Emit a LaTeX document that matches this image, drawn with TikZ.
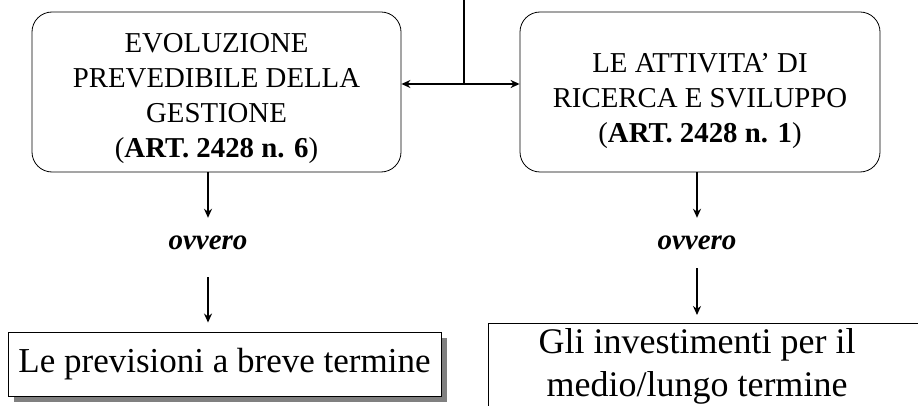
\documentclass[tikz,border=0pt]{standalone}
\usepackage{fontspec}
\setmainfont{Liberation Serif}
\usetikzlibrary{arrows.meta,shadows}

\begin{document}
\begin{tikzpicture}[x=1pt,y=-1pt,>={Stealth[length=9pt,width=8pt]},
    rbox/.style={draw,rounded corners=20pt,line width=0.8pt,minimum height=160pt},
    flatbox/.style={draw,line width=0.9pt,fill=white},
    boxtext/.style={align=center,inner sep=0pt,font=\fontsize{28.8}{35}\selectfont},
    ovtext/.style={inner sep=0pt,minimum height=50pt,font=\fontsize{29}{35}\selectfont\bfseries\itshape},
    link/.style={line width=2pt}]
  \clip (0,0) rectangle (918,406);

  % the two upper boxes
  \node[rbox,minimum width=369pt] (evol) at (216.5,92) {};
  \node[boxtext] (evoltxt) at (216.5,99) {EVOLUZIONE\\PREVEDIBILE DELLA\\GESTIONE\\(\textbf{ART. 2428 n. 6})};
  \node[rbox,minimum width=360pt] (ric) at (700,92) {};
  \node[boxtext] (rictxt) at (700,101) {LE ATTIVITA’ DI\\RICERCA E SVILUPPO\\(\textbf{ART. 2428 n. 1})};

  \coordinate (top) at (464,0);
  \coordinate (junc) at (464,84);
  \draw[link,line width=2.6pt] (top) -- (junc);
  \draw[link,<->] (junc -| evol.east) -- (junc -| ric.west);

  % ovvero
  \node[ovtext] (ovl) at (208,243) {ovvero};
  \node[ovtext] (ovr) at (697,243) {ovvero};
  \draw[link,->] (evol.south -| ovl) -- (ovl.north);
  \draw[link,->] (ric.south -| ovr) -- (ovr.north);

  % lower boxes
  \node[flatbox,drop shadow={shadow xshift=6pt,shadow yshift=-6pt,fill=gray,opacity=1},
        minimum width=433pt,minimum height=64pt,font=\fontsize{35}{42}\selectfont] (prev) at (224.5,364) {Le previsioni a breve termine};
  \node[flatbox,anchor=north west,minimum width=460pt,minimum height=120pt] (invbox) at (488,323) {};
  \node[align=center,inner sep=0pt,font=\fontsize{36}{43}\selectfont] (inv) at (697,366) {Gli investimenti per il\\medio/lungo termine};

  \draw[link,->,shorten <=9pt,shorten >=9pt] (ovl.south) -- (ovl.south |- prev.north);
  \draw[link,->,shorten >=8pt] (ovr.south) -- (ovr.south |- invbox.north);
\end{tikzpicture}
\end{document}
